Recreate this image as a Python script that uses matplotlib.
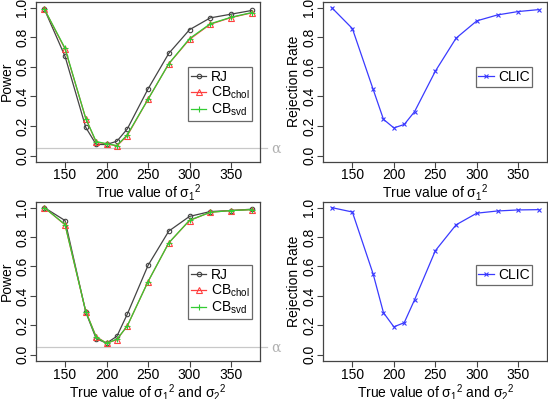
"""
Power / rejection rate of the tests against the true variance.
"""
import matplotlib
matplotlib.use("Agg")
import matplotlib.pyplot as plt

plt.rcParams["font.family"] = ["Liberation Sans", "DejaVu Sans"]
plt.rcParams["mathtext.fontset"] = "custom"
plt.rcParams["mathtext.rm"] = "Liberation Sans"
plt.rcParams["mathtext.it"] = "Liberation Sans"
plt.rcParams["mathtext.sf"] = "Liberation Sans"

# true values of sigma^2
sigma_vals = [125, 150, 175, 187.5, 200, 212.5, 225, 250, 275, 300, 325, 350, 375]

# top row: only sigma_1^2 varies
rj_top = [0.99, 0.67, 0.19, 0.075, 0.075, 0.097, 0.18, 0.45, 0.69, 0.85, 0.93, 0.955, 0.98]
chol_top = [0.99, 0.72, 0.25, 0.09, 0.08, 0.065, 0.135, 0.38, 0.62, 0.785, 0.887, 0.932, 0.964]
svd_top = [0.99, 0.725, 0.25, 0.095, 0.08, 0.068, 0.14, 0.38, 0.62, 0.79, 0.89, 0.934, 0.966]
clic_top = [1.0, 0.858, 0.448, 0.245, 0.187, 0.21, 0.297, 0.57, 0.793, 0.91, 0.95, 0.973, 0.986]

# bottom row: sigma_1^2 and sigma_2^2 vary together
rj_bot = [1.0, 0.912, 0.29, 0.11, 0.079, 0.126, 0.276, 0.607, 0.84, 0.94, 0.973, 0.98, 0.989]
chol_bot = [1.0, 0.883, 0.294, 0.123, 0.079, 0.103, 0.196, 0.497, 0.76, 0.912, 0.968, 0.98, 0.986]
svd_bot = [1.0, 0.885, 0.294, 0.12, 0.079, 0.105, 0.196, 0.497, 0.76, 0.914, 0.968, 0.98, 0.986]
clic_bot = [1.0, 0.97, 0.55, 0.286, 0.19, 0.218, 0.374, 0.707, 0.883, 0.962, 0.977, 0.984, 0.986]

alpha_level = 0.05
xticks = [150, 200, 250, 300, 350]
yticks = [0.0, 0.2, 0.4, 0.6, 0.8, 1.0]

xlab_top = r"True value of $\sigma_1{}^2$"
xlab_bot = r"True value of $\sigma_1{}^2$ and $\sigma_2{}^2$"

FS = 10
BOX = "#444444"


def style_axes(ax, xlabel, ylabel):
    # R-like box and axes
    ax.set_xlim(115, 385)
    ax.set_ylim(-0.04, 1.04)
    ax.set_xticks(xticks)
    ax.set_yticks(yticks)
    ax.set_yticklabels(["%.1f" % v for v in yticks], rotation=90, va="center")
    ax.tick_params(direction="out", length=4, width=0.8, color=BOX,
                   labelsize=FS, pad=1)
    for s in ax.spines.values():
        s.set_color(BOX)
        s.set_linewidth(0.9)
    ax.set_xlabel(xlabel, fontsize=FS, labelpad=0)
    ax.set_ylabel(ylabel, fontsize=FS, labelpad=1)


def legend(ax, yanchor):
    leg = ax.legend(loc="upper left", bbox_to_anchor=(0.68, yanchor),
                    fontsize=FS, frameon=True, fancybox=False,
                    handlelength=1.1, handletextpad=0.3, borderpad=0.2,
                    labelspacing=0.05, borderaxespad=0)
    leg.get_frame().set_edgecolor(BOX)
    leg.get_frame().set_linewidth(0.9)


def power_panel(ax, rj, chol, svd, xlabel):
    ax.plot(sigma_vals, rj, color="#444444", lw=0.9, marker="o", ms=3.2,
            mfc="none", mew=0.8, label="RJ")
    ax.plot(sigma_vals, chol, color="#FF4040", lw=0.9, marker="^", ms=3.8,
            mfc="none", mew=0.8, label=r"CB$_{chol}$")
    ax.plot(sigma_vals, svd, color="#33CC33", lw=0.9, marker="+", ms=5,
            mew=0.8, label=r"CB$_{svd}$")
    # significance level, drawn past the right edge of the box
    ax.axhline(alpha_level, xmin=0, xmax=1.03, color="#C8C8C8", lw=0.9,
               clip_on=False, zorder=0)
    ax.text(1.05, alpha_level, "α", transform=ax.get_yaxis_transform(),
            color="#B0B0B0", fontsize=FS, va="center", ha="left",
            family="DejaVu Serif")
    style_axes(ax, xlabel, "Power")


def clic_panel(ax, clic, xlabel):
    ax.plot(sigma_vals, clic, color="#3A3AFF", lw=0.9, marker="x", ms=3.5,
            mew=0.8, label="CLIC")
    style_axes(ax, xlabel, "Rejection Rate")


fig = plt.figure(figsize=(5.48, 3.99), dpi=100)
w = 0.4088
ax1 = fig.add_axes((0.0657, 0.5952, w, 0.4008))
ax2 = fig.add_axes((0.590, 0.5952, w, 0.4008))
ax3 = fig.add_axes((0.0657, 0.0960, w, 0.3985))
ax4 = fig.add_axes((0.590, 0.0960, w, 0.3985))

power_panel(ax1, rj_top, chol_top, svd_top, xlab_top)
legend(ax1, 0.59)
clic_panel(ax2, clic_top, xlab_top)
legend(ax2, 0.59)
power_panel(ax3, rj_bot, chol_bot, svd_bot, xlab_bot)
legend(ax3, 0.60)
clic_panel(ax4, clic_bot, xlab_bot)
legend(ax4, 0.60)

fig.savefig("out.png", dpi=100)
